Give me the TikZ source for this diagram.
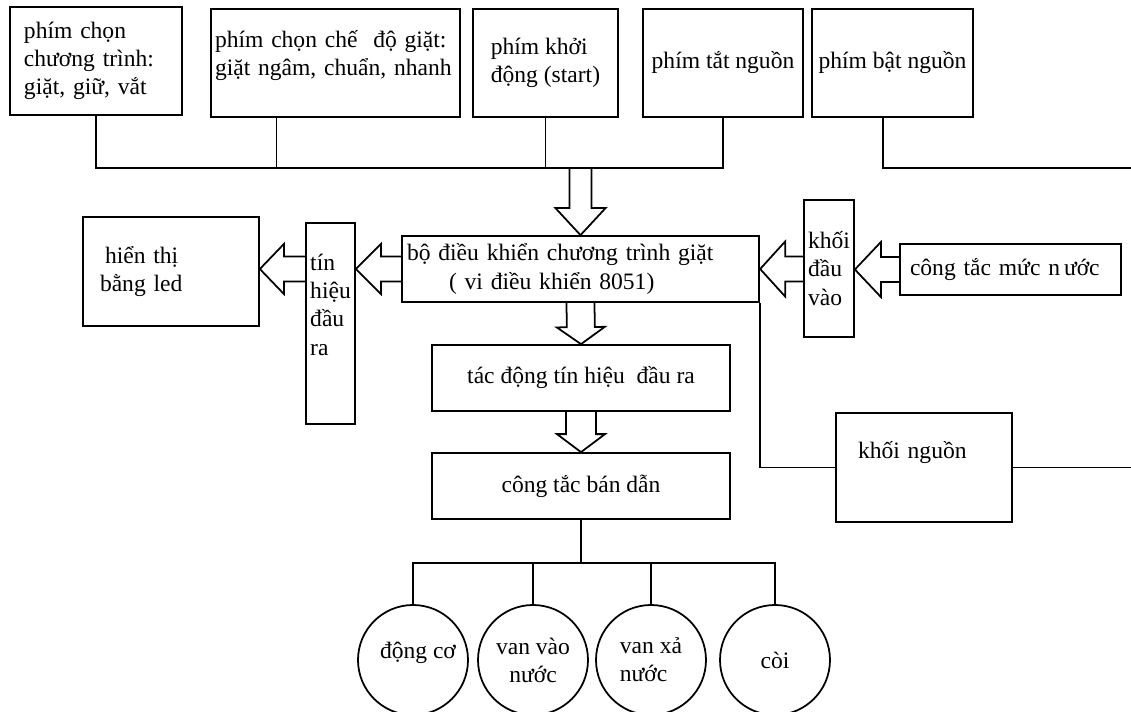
\documentclass[tikz,border=0pt]{standalone}
\usepackage{fontspec}
\setmainfont{Liberation Serif}
\usetikzlibrary{calc}
\tikzset{
  block/.style={
    draw, line width=1pt, inner xsep=3pt, inner ysep=2pt,
    font=\fontsize{13.4}{16}\selectfont
  },
  lblock/.style={block, align=left},
  cblock/.style={block, align=center},
  device/.style={
    circle, draw, line width=1pt, minimum size=2.2cm, inner sep=1pt,
    font=\fontsize{13.4}{16}\selectfont
  },
  wire/.style={draw, line width=1pt},
  hollow/.style={draw, line width=1pt, line join=miter}
}
% wide open arrow from #1 to the tip #2: half shaft, half head, head length
\newcommand{\hollowarrow}[5]{%
  \coordinate (ha-base) at ($(#2)!#5!(#1)$);
  \draw[hollow] ($(#1)!#3!90:(#2)$) -- ($(ha-base)!#3!90:(#2)$)
    -- ($(ha-base)!#4!90:(#2)$) -- (#2) -- ($(ha-base)!#4!-90:(#2)$)
    -- ($(ha-base)!#3!-90:(#2)$) -- ($(#1)!#3!-90:(#2)$);
}

\begin{document}
\begin{tikzpicture}[x=1cm,y=1cm]
  \useasboundingbox (0,0) rectangle (22.62,14.22);
  \coordinate (bus) at (0,10.86);
  \coordinate (outbus) at (0,2.96);
  \coordinate (edge) at (22.62,0);

  % keys along the top
  \node[lblock, minimum width=3.44cm, minimum height=2.16cm, text width=2.88cm, inner xsep=0.28cm]
    (selprog) at (1.92,13.00) {phím chọn\\chương trình:\\giặt, giữ, vắt};
  \node[lblock, minimum width=4.98cm, minimum height=2.16cm, text width=4.82cm, inner xsep=0.08cm, text depth=0.95cm]
    (selmode) at (6.71,12.96) {phím chọn chế\ \ độ giặt:\\giặt ngâm, chuẩn, nhanh};
  \node[lblock, minimum width=2.90cm, minimum height=2.16cm]
    (startkey) at (10.91,12.96) {phím khởi\\động (start)};
  \node[cblock, minimum width=3.20cm, minimum height=2.16cm]
    (offkey) at (14.46,12.96) {phím tắt nguồn};
  \node[cblock, minimum width=3.22cm, minimum height=2.16cm]
    (onkey) at (17.85,12.96) {phím bật nguồn};

  % controller and its neighbours
  \node[lblock, minimum width=7.10cm, minimum height=1.32cm, text width=6.94cm]
    (mcu) at (11.61,8.84) {bộ điều khiển chương trình giặt\\\hspace*{0.84cm}( vi điều khiển 8051)};
  \node[lblock, minimum width=3.52cm, minimum height=2.18cm, text width=2.84cm, inner xsep=0.34cm]
    (ledshow) at (3.42,8.79) {\hspace*{0.1cm}hiển thị\\bằng led};
  \node[lblock, minimum width=0.98cm, minimum height=4.02cm, inner xsep=1pt, text depth=0.75cm]
    (outsig) at (6.61,7.75) {tín\\hiệu\\đầu\\ra};
  \node[lblock, minimum width=1.00cm, minimum height=2.74cm, inner xsep=1pt]
    (insig) at (16.58,8.85) {khối\\đầu\\vào};
  \node[lblock, minimum width=4.42cm, minimum height=1.02cm, text width=4.02cm, inner xsep=0.2cm]
    (level) at (20.21,8.83) {công tắc mức n\,ước};
  \node[cblock, minimum width=5.96cm, minimum height=1.32cm]
    (drive) at (11.62,6.66) {tác động tín hiệu\ \ đầu ra};
  \node[cblock, minimum width=5.96cm, minimum height=1.32cm]
    (sswitch) at (11.62,4.50) {công tắc bán dẫn};
  \node[lblock, minimum width=3.52cm, minimum height=2.18cm, text width=2.64cm, inner xsep=0.44cm, text depth=0.7cm]
    (psu) at (18.48,4.87) {khối nguồn};

  % loads
  \node[device, align=center, text depth=0.4cm] (motor) at (8.26,1.02) {\hspace*{0.2cm}động cơ};
  \node[device, align=center] (valvein) at (10.66,1.02) {van vào\\nước};
  \node[device, align=left] (valveout) at (13.02,1.02) {van xả\\nước};
  \node[device] (buzzer) at (15.50,1.02) {còi};

  % key bus
  \coordinate (selmodeout) at ($(selmode.south west)!0.265!(selmode.south east)$);
  \coordinate (onkeyout) at ($(onkey.south west)!0.44!(onkey.south east)$);
  \draw[wire] (selprog.south) -- (selprog.south |- bus) -- (offkey.south |- bus) -- (offkey.south);
  \draw[wire] (selmodeout) -- (selmodeout |- bus);
  \draw[wire] (startkey.south) -- (startkey.south |- bus);
  \draw[wire] (onkeyout) |- (edge |- bus);

  % signal flow arrows
  \coordinate (busin) at (mcu.north |- bus);
  \hollowarrow{busin}{mcu.north}{0.22cm}{0.50cm}{0.54cm}
  \hollowarrow{mcu.south}{drive.north}{0.28cm}{0.48cm}{0.34cm}
  \hollowarrow{drive.south}{sswitch.north}{0.30cm}{0.48cm}{0.36cm}
  \coordinate (sigtip) at (outsig.east |- mcu.west);
  \hollowarrow{mcu.west}{sigtip}{0.25cm}{0.50cm}{0.50cm}
  \coordinate (sigtail) at (outsig.west |- mcu.west);
  \coordinate (ledtip) at (ledshow.east |- mcu.west);
  \hollowarrow{sigtail}{ledtip}{0.25cm}{0.50cm}{0.48cm}
  \coordinate (intail) at (insig.west |- mcu.east);
  \hollowarrow{intail}{mcu.east}{0.25cm}{0.55cm}{0.50cm}
  \coordinate (intip) at (insig.east |- level.west);
  \hollowarrow{level.west}{intip}{0.25cm}{0.55cm}{0.52cm}

  % supply
  \draw[wire] (mcu.south east) |- (psu.west);
  \draw[wire] (psu.east) -- (psu.east -| edge);

  % output bus to the loads
  \draw[wire] (sswitch.south) -- (sswitch.south |- outbus);
  \draw[wire] (motor.north) -- (motor.north |- outbus) -- (buzzer.north |- outbus) -- (buzzer.north);
  \foreach \d in {valvein,valveout}
    \draw[wire] (\d.north) -- (\d.north |- outbus);
\end{tikzpicture}
\end{document}
